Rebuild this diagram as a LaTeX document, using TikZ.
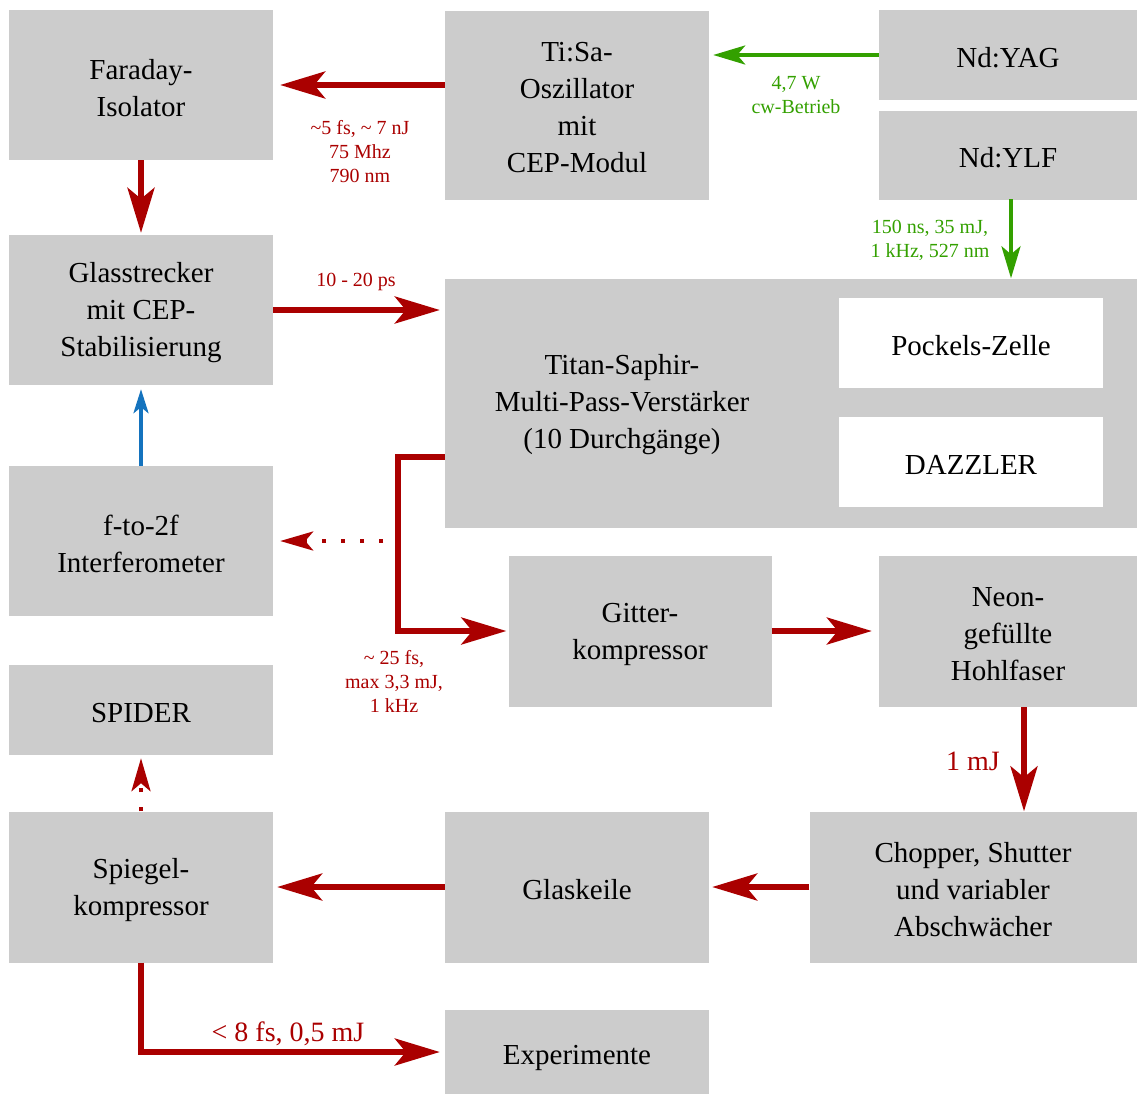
\documentclass[tikz,border=0pt]{standalone}
\usepackage{fontspec}
\setmainfont{Liberation Serif}
\usetikzlibrary{arrows.meta}
\definecolor{boxgray}{RGB}{204,204,204}
\definecolor{laserred}{RGB}{170,0,0}
\definecolor{pumpgreen}{RGB}{51,160,0}
\definecolor{fbblue}{RGB}{20,115,190}
\begin{document}
\begin{tikzpicture}[x=1pt,y=-1pt,
  box/.style={fill=boxgray, inner sep=0pt},
  wbox/.style={fill=white, inner sep=0pt},
  txt/.style={inner sep=0pt, align=center, yshift=-3pt, font=\fontsize{29}{37}\selectfont},
  redlbl/.style={inner sep=0pt, align=center, text=laserred, font=\fontsize{20}{24}\selectfont},
  biglbl/.style={inner sep=0pt, align=center, text=laserred, font=\fontsize{28}{33}\selectfont},
  greenlbl/.style={inner sep=0pt, align=center, text=pumpgreen, font=\fontsize{20}{24}\selectfont},
  beam/.style={draw=laserred, line width=5.5pt, -{Stealth[length=45pt,width=27pt,inset=11pt]}},
  dotbeam/.style={draw=laserred, line width=4pt, dash pattern=on 4pt off 15pt, -{Stealth[length=33pt,width=19pt,inset=8pt]}},
  pump/.style={draw=pumpgreen, line width=4pt, -{Stealth[length=32pt,width=19pt,inset=8pt]}},
  feedback/.style={draw=fbblue, line width=3.5pt, -{Stealth[length=24pt,width=15pt,inset=6pt]}}
]
\useasboundingbox (0,0) rectangle (1137,1095);

% boxes
\node[box, minimum width=264pt, minimum height=150pt, label={[txt]center:{Faraday-\\Isolator}}] (faraday) at (141,85) {};
\node[box, minimum width=264pt, minimum height=189pt, label={[txt]center:{Ti:Sa-\\Oszillator\\mit\\CEP-Modul}}] (tisa) at (577,105) {};
\node[box, minimum width=258pt, minimum height=90pt, label={[txt]center:{Nd:YAG}}] (ndyag) at (1008,55) {};
\node[box, minimum width=258pt, minimum height=89pt, label={[txt]center:{Nd:YLF}}] (ndylf) at (1008,155) {};
\node[box, minimum width=264pt, minimum height=150pt, label={[txt]center:{Glasstrecker\\mit CEP-\\Stabilisierung}}] (glas) at (141,310) {};
\node[box, minimum width=692pt, minimum height=249pt] (amp) at (791,403) {};
\node[txt] (amptext) at (622,402) {Titan-Saphir-\\Multi-Pass-Verstärker\\(10 Durchgänge)};
\node[wbox, minimum width=264pt, minimum height=90pt, label={[txt]center:{Pockels-Zelle}}] (pockels) at (971,343) {};
\node[wbox, minimum width=264pt, minimum height=90pt, label={[txt]center:{DAZZLER}}] (dazzler) at (971,462) {};
\node[box, minimum width=264pt, minimum height=150pt, label={[txt]center:{f-to-2f\\Interferometer}}] (f2f) at (141,541) {};
\node[box, minimum width=263pt, minimum height=151pt, label={[txt]center:{Gitter-\\kompressor}}] (gitter) at (640,631) {};
\node[box, minimum width=258pt, minimum height=151pt, label={[txt]center:{Neon-\\gefüllte\\Hohlfaser}}] (neon) at (1008,631) {};
\node[box, minimum width=264pt, minimum height=90pt, label={[txt]center:{SPIDER}}] (spider) at (141,710) {};
\node[box, minimum width=264pt, minimum height=151pt, label={[txt]center:{Spiegel-\\kompressor}}] (spiegel) at (141,887) {};
\node[box, minimum width=264pt, minimum height=151pt, label={[txt]center:{Glaskeile}}] (keile) at (577,887) {};
\node[box, minimum width=327pt, minimum height=151pt, label={[txt]center:{Chopper, Shutter\\und variabler\\Abschwächer}}] (chopper) at (973,887) {};
\node[box, minimum width=264pt, minimum height=84pt, label={[txt, yshift=-3pt]center:{Experimente}}] (exp) at (577,1052) {};

% coordinates
\coordinate (ampout) at (398,457);
\coordinate (dotstart) at (383,541);
\coordinate (neonout) at (1024,707);
\coordinate (ylfout) at (1011,199);

% connectors
\draw[pump, shorten >=4pt] (ndyag.west) -- (ndyag.west -| tisa.east);
\draw[pump] (ylfout) -- (ylfout |- amp.north);
\draw[beam, shorten >=7pt] (faraday.east -| tisa.west) -- (faraday.east);
\draw[beam, shorten >=2pt] (faraday.south) -- (glas.north);
\draw[beam, shorten >=5pt] (glas.east) -- (glas.east -| amp.west);
\draw[feedback, shorten >=4pt] (f2f.north) -- (glas.south);
\draw[beam, shorten >=2pt] (ampout -| amp.west) -- (ampout) |- (gitter.west);
\draw[dotbeam, shorten >=7pt] (dotstart) -- (dotstart -| f2f.east);
\draw[beam, shorten >=7pt] (gitter.east) -- (neon.west);
\draw[beam] (neonout) -- (neonout |- chopper.north);
\draw[beam, shorten >=3pt] (chopper.west) -- (keile.east);
\draw[beam, shorten >=4pt] (keile.west) -- (spiegel.east);
\draw[dotbeam, shorten >=3pt] (spiegel.north) -- (spider.south);
\draw[beam, shorten >=5pt] (spiegel.south) |- (exp.west);

% labels
\node[redlbl] (l1) at (360,152) {\textasciitilde5 fs, \textasciitilde\ 7 nJ\\75 Mhz\\790 nm};
\node[greenlbl] (l2) at (796,95) {4,7 W\\cw-Betrieb};
\node[greenlbl] (l3) at (930,240) {150 ns, 35 mJ,\\1 kHz, 527 nm};
\node[redlbl] (l4) at (356,282) {10 - 20 ps};
\node[redlbl] (l5) at (394,681) {\textasciitilde\ 25 fs,\\max 3,3 mJ,\\1 kHz};
\node[biglbl] (l6) at (973,761) {1 mJ};
\node[biglbl] (l7) at (288,1034) {< 8 fs, 0,5 mJ};
\end{tikzpicture}
\end{document}
